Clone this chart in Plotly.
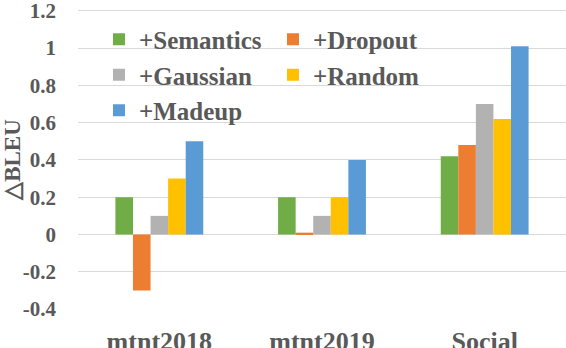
import plotly.graph_objects as go

categories = ["mtnt2018", "mtnt2019", "Social"]
series_names = ["+Semantics", "+Dropout", "+Gaussian", "+Random", "+Madeup"]
semantics = [0.20, 0.20, 0.42]
dropout = [-0.30, 0.01, 0.48]
gaussian = [0.10, 0.10, 0.70]
random_ = [0.30, 0.20, 0.62]
madeup = [0.50, 0.40, 1.01]
y_ticks = [-0.4, -0.2, 0, 0.2, 0.4, 0.6, 0.8, 1.0, 1.2]
y_ticktext = ["-0.4", "-0.2", "0", "0.2", "0.4", "0.6", "0.8", "1", "1.2"]

colors = ["#70AD47", "#ED7D31", "#B2B2B2", "#FFC000", "#5B9BD5"]
values = [semantics, dropout, gaussian, random_, madeup]

FONT = "Liberation Serif, Times New Roman, serif"
GREY = "#595959"

fig = go.Figure()
for name, vals, col in zip(series_names, values, colors):
    fig.add_trace(go.Bar(x=categories, y=vals, name=name, marker_color=col,
                         marker_line_width=0))

fig.update_layout(
    width=566, height=348,
    margin=dict(l=78, r=0, t=9, b=38),
    plot_bgcolor="white", paper_bgcolor="white",
    barmode="group", bargap=0.46, bargroupgap=0,
    font=dict(family=FONT, color=GREY, weight="bold"),
    legend=dict(
        orientation="h", x=0.043, y=0.975, xanchor="left", yanchor="top",
        entrywidth=129, entrywidthmode="pixels",
        font=dict(family=FONT, size=25, color=GREY, weight="bold"),
        bgcolor="rgba(0,0,0,0)", itemclick=False,
    ),
)
fig.update_xaxes(
    showgrid=False, showline=False, zeroline=False, automargin=False,
    tickfont=dict(family=FONT, size=26, color=GREY, weight="bold"),
    ticklabelstandoff=13, ticklabeloverflow="allow",
)
fig.update_yaxes(
    range=[-0.405, 1.21], tickvals=y_ticks, ticktext=y_ticktext,
    showgrid=True, gridcolor="#D9D9D9", gridwidth=1.3,
    zeroline=True, zerolinecolor="#D9D9D9", zerolinewidth=1.3,
    showline=False, automargin="left", ticklabeloverflow="allow",
    tickfont=dict(family=FONT, size=21, color=GREY, weight="bold"),
    ticklabelstandoff=21,
    title=dict(text="△BLEU", standoff=2,
               font=dict(family=FONT, size=23, color=GREY, weight="bold")),
)

# drop the default 8px page margin so the figure fills the window
fig.write_html("out.html", config={"displayModeBar": False},
               post_script="document.body.style.margin='0';")
